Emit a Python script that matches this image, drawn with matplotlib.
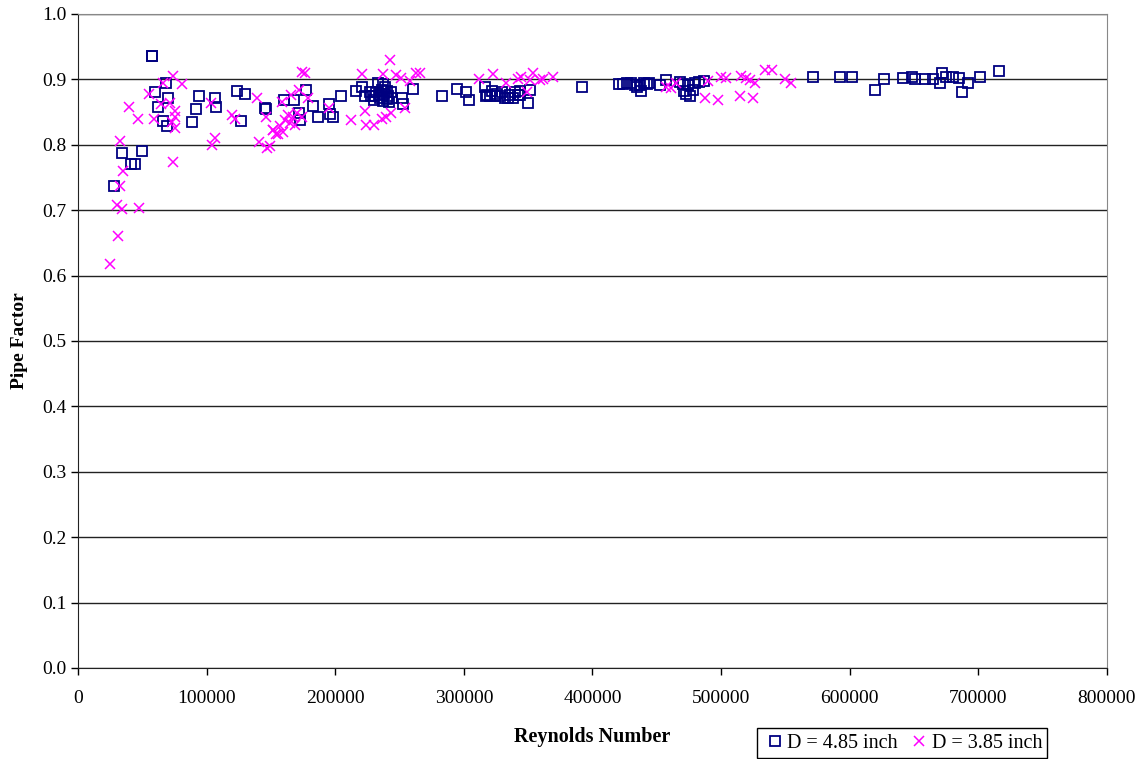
import matplotlib.pyplot as plt

# D = 4.85 inch (squares)
re_485 = [28000, 33900, 41400, 44000, 49500, 57300, 57600, 60100, 62400, 65800, 68100, 69400, 69900,
          88300, 91900, 93800, 106400, 107200, 123300, 126600, 130000, 145300, 146000,
          160100, 167800, 171900, 172500, 177200, 182800, 186700, 195300, 196300, 198400, 204100,
          216000, 221200, 223000, 226900, 229500, 228000, 230000, 232000, 233400, 234000, 235000,
          236000, 237000, 237500, 238000, 239000, 240000, 240500, 241000, 242000, 243000, 244000,
          252300, 252800, 260500, 283000, 294700, 302000, 303800,
          316200, 317500, 318000, 320000, 322000, 324000, 326000, 328000, 330000, 332000, 334300,
          336000, 338000, 340000, 342000, 343400, 344000, 349900, 351700, 392100,
          421000, 424000, 427000, 430000, 433000, 435000, 437000, 438000, 440000, 442000, 444000,
          452200, 457400, 468000, 470000, 471000, 473000, 474000, 476000, 478000, 480000, 483000, 487000,
          571400, 592600, 601900, 619300, 626300, 641300, 648600, 651100, 658900, 665100,
          670500, 671800, 675000, 680100, 685300, 687100, 692300, 701400, 715900]
pf_485 = [0.737, 0.787, 0.771, 0.770, 0.791, 0.935, 0.935, 0.881, 0.857, 0.837, 0.894, 0.829, 0.871,
          0.835, 0.854, 0.874, 0.871, 0.858, 0.882, 0.837, 0.878, 0.856, 0.854,
          0.869, 0.869, 0.848, 0.838, 0.884, 0.859, 0.842, 0.862, 0.847, 0.842, 0.875,
          0.882, 0.889, 0.874, 0.881, 0.874, 0.875, 0.868, 0.880, 0.894, 0.876, 0.872,
          0.884, 0.867, 0.893, 0.878, 0.888, 0.870, 0.882, 0.875, 0.866, 0.880, 0.872,
          0.871, 0.863, 0.885, 0.875, 0.885, 0.881, 0.869,
          0.889, 0.874, 0.876, 0.874, 0.882, 0.875, 0.878, 0.874, 0.880, 0.872, 0.871,
          0.876, 0.872, 0.880, 0.876, 0.876, 0.882, 0.864, 0.884, 0.889,
          0.893, 0.893, 0.894, 0.894, 0.891, 0.888, 0.892, 0.882, 0.895, 0.893, 0.894,
          0.891, 0.899, 0.896, 0.893, 0.882, 0.877, 0.891, 0.875, 0.884, 0.894, 0.896, 0.897,
          0.903, 0.903, 0.903, 0.883, 0.900, 0.902, 0.903, 0.900, 0.900, 0.900,
          0.894, 0.909, 0.904, 0.904, 0.902, 0.881, 0.894, 0.904, 0.913]

# D = 3.85 inch (crosses)
re_385 = [24600, 31100, 30500, 34200, 47400, 32900, 35200, 32600, 39600, 46900, 54900, 59100, 64200,
          66000, 71200, 73300, 73800, 73800, 75100, 75100, 75600, 80800,
          103100, 103900, 106200, 119900, 121700, 139100, 140600, 145800, 146600,
          149200, 151500, 151800, 154100, 155600, 157000, 158300, 159500, 160800, 163400, 164700,
          166000, 167300, 168600, 169900, 171900, 173800, 174300, 176400, 179000,
          195300, 211900, 221200, 223000, 223800, 230000, 236000, 237200, 239800, 242400, 243700,
          247600, 251500, 254100, 258000, 263100, 265700,
          311800, 322700, 333100, 342100, 344700, 349100, 351200, 353800, 358900, 361500, 369300,
          457400, 461300, 464600, 487200, 489800, 497500, 500100, 504000, 514400, 515600,
          519500, 522100, 524700, 526000, 534000, 539800, 549300, 554500]
pf_385 = [0.617, 0.661, 0.708, 0.702, 0.704, 0.737, 0.760, 0.806, 0.857, 0.839, 0.878, 0.839, 0.862,
          0.894, 0.864, 0.835, 0.905, 0.774, 0.852, 0.825, 0.843, 0.893,
          0.864, 0.800, 0.811, 0.846, 0.839, 0.872, 0.804, 0.842, 0.795,
          0.798, 0.822, 0.823, 0.817, 0.817, 0.828, 0.866, 0.820, 0.838, 0.846, 0.833,
          0.876, 0.843, 0.830, 0.848, 0.884, 0.843, 0.912, 0.910, 0.871,
          0.856, 0.838, 0.908, 0.851, 0.830, 0.830, 0.840, 0.908, 0.843, 0.930, 0.848,
          0.907, 0.902, 0.856, 0.897, 0.909, 0.910,
          0.900, 0.908, 0.895, 0.900, 0.903, 0.881, 0.899, 0.910, 0.899, 0.900, 0.904,
          0.889, 0.887, 0.894, 0.871, 0.897, 0.869, 0.903, 0.902, 0.875, 0.905,
          0.902, 0.899, 0.871, 0.894, 0.915, 0.914, 0.900, 0.895]

plt.rcParams['font.family'] = ['Liberation Serif', 'DejaVu Serif']

fig = plt.figure(figsize=(11.45, 7.59), dpi=100)
ax = fig.add_axes([0.0681, 0.1199, 0.8987, 0.8617])

ax.plot(re_485, pf_485, linestyle='none', marker='s', markersize=7.5,
        markerfacecolor='none', markeredgecolor='#000080', markeredgewidth=1.3,
        label='D = 4.85 inch', zorder=3)
ax.plot(re_385, pf_385, linestyle='none', marker='x', markersize=7.5,
        color='#FF00FF', markeredgewidth=1.1, label='D = 3.85 inch', zorder=4)

ax.set_xlim(0, 800000)
ax.set_ylim(0, 1.0)
ax.set_xticks(range(0, 800001, 100000))
ax.set_xticklabels([str(v) for v in range(0, 800001, 100000)])
ax.set_yticks([i / 10 for i in range(11)])
ax.set_yticklabels(['%.1f' % (i / 10) for i in range(11)])
ax.tick_params(direction='out', length=5, labelsize=14, width=1)
ax.tick_params(axis='x', pad=11)
ax.yaxis.grid(True, color='#222222', linewidth=1)
ax.set_axisbelow(True)

for s in ['top', 'right']:
    ax.spines[s].set_color('#888888')
for s in ['left', 'bottom']:
    ax.spines[s].set_color('#222222')

ax.set_xlabel('Reynolds Number', fontsize=14.5, fontweight='bold', labelpad=14)
ax.set_ylabel('Pipe Factor', fontsize=14, fontweight='bold', labelpad=10)

leg = fig.legend(loc='center', bbox_to_anchor=(0.788, 0.021), ncol=2, fontsize=14.5,
                 frameon=True, fancybox=False, edgecolor='black', framealpha=1,
                 handletextpad=0.0, columnspacing=0.5, borderpad=0.25, handlelength=1.2)
leg.get_frame().set_linewidth(1)

fig.savefig('out.png', dpi=100)
